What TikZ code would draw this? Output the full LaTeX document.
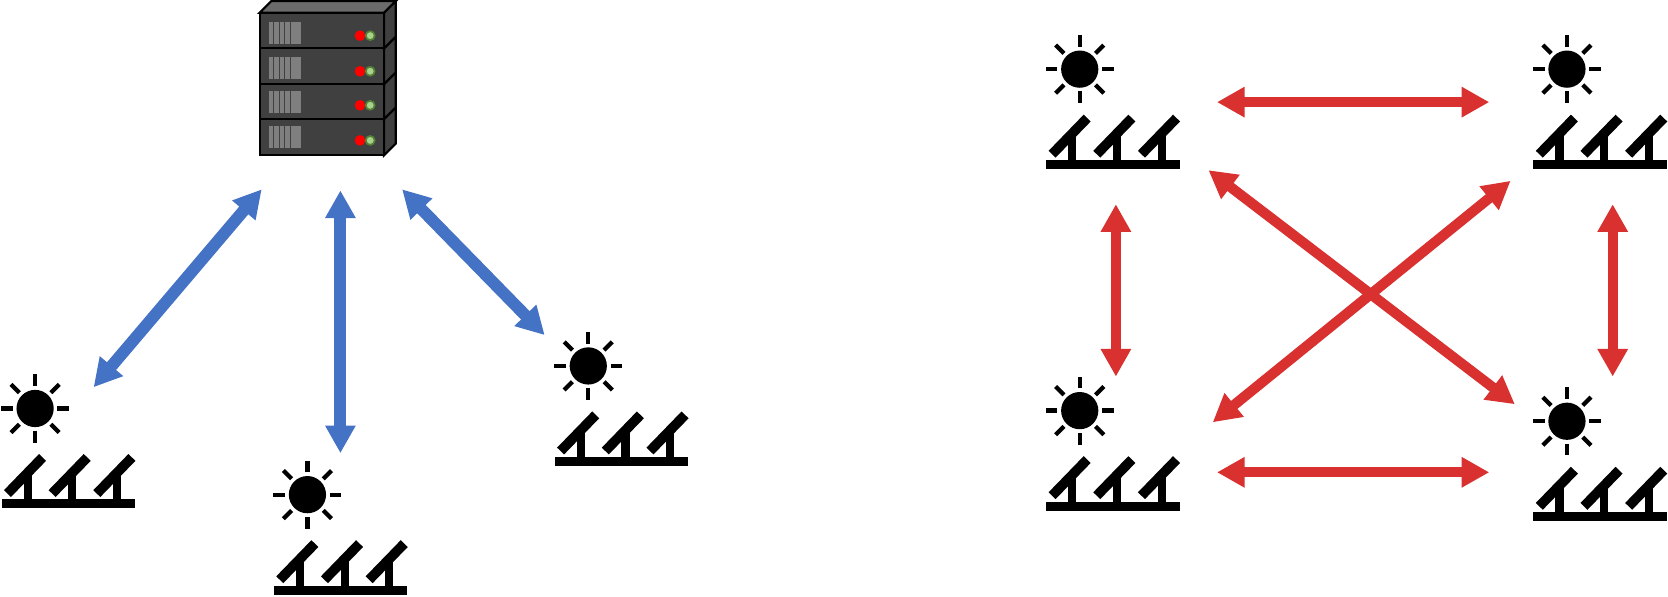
\documentclass[tikz,border=0pt]{standalone}
\usetikzlibrary{arrows.meta}
\definecolor{linkblue}{HTML}{4472C4}
\definecolor{linkred}{HTML}{D93030}
\definecolor{rackdark}{HTML}{404040}
\definecolor{racktop}{HTML}{6B6B6B}
\definecolor{vent}{HTML}{7F7F7F}
\definecolor{ledgreen}{HTML}{A9D18E}
\definecolor{ledring}{HTML}{548235}
\tikzset{
  x=0.5pt,y=-0.5pt,
  bluelink/.style={draw=linkblue,line width=5.6pt,{Triangle[length=13pt,width=13.5pt]}-{Triangle[length=13pt,width=13.5pt]},color=linkblue},
  redlink/.style={draw=linkred,line width=4.8pt,{Triangle[length=13pt,width=13.5pt]}-{Triangle[length=13pt,width=13.5pt]},color=linkred},
  rackface/.style={draw=black,line width=1pt,fill=rackdark},
  ray/.style={draw=black,line width=2pt},
  pv/.style={draw=black,line width=4.6pt},
  post/.style={draw=black,line width=3.8pt},
  redled/.style={circle,fill=red,inner sep=0pt,minimum size=5pt},
  greenled/.style={circle,fill=ledgreen,draw=ledring,line width=0.8pt,inner sep=0pt,minimum size=4.2pt}
}
\newcommand{\station}[3]{%
  \begin{scope}[shift={(#1,#2)}]
    \coordinate (#3) at (0,0);
    \fill[black] (0,0) circle[radius=17.5];
    \foreach \a in {0,45,...,315}{\draw[ray] (\a:21) -- (\a:32);}
    \foreach \d in {0,42,84}{
      \draw[post] (-7+\d,60) -- (-7+\d,88);
      \draw[pv] (-26+\d,80) -- (7+\d,46);
    }
    \fill[black] (-31.5,85.5) rectangle (94,94);
  \end{scope}}
\newcommand{\rackunit}[4]{%
  \fill[rackdark,draw=black,line width=1pt] (361,#1) -- (372,#1-11) -- (372,#2-11) -- (361,#2) -- cycle;
  \draw[rackface] (244,#1) rectangle (361,#2);
  \foreach \i in {0,1,2,3,4,5}{\fill[vent] (252.6+5.2*\i,#3) rectangle ++(4.4,21);}
  \node[redled] (r#1) at (338.4,#4) {};
  \node[greenled] (g#1) at (348,#4) {};
}
\begin{document}
\begin{tikzpicture}
\useasboundingbox (0,0) rectangle (1568,560.3);
\fill[racktop,draw=black,line width=1pt] (244,12) -- (255,1) -- (372,1) -- (361,12) -- cycle;
\rackunit{112}{146}{118.5}{132}
\rackunit{79}{112}{85.5}{99}
\rackunit{45.5}{79}{53.6}{67}
\rackunit{12}{45.5}{20.4}{33.5}
\station{33}{384}{sA}
\station{289}{465}{sB}
\station{553}{344}{sC}
\station{1015}{65}{sD}
\station{1473}{65}{sE}
\station{1015}{386}{sF}
\station{1473}{396}{sG}
\coordinate (b1a) at (246,178); \coordinate (b1b) at (88,364);
\coordinate (b2a) at (320,179); \coordinate (b2b) at (320,426);
\coordinate (b3a) at (378,178); \coordinate (b3b) at (512,315);
\coordinate (r1a) at (1144,96); \coordinate (r1b) at (1400,96);
\coordinate (r2a) at (1144,444); \coordinate (r2b) at (1400,444);
\coordinate (r3a) at (1049,192); \coordinate (r3b) at (1049,354);
\coordinate (r4a) at (1516,192); \coordinate (r4b) at (1516,354);
\coordinate (r5a) at (1136,160); \coordinate (r5b) at (1424,380);
\coordinate (r6a) at (1420,170); \coordinate (r6b) at (1140,397);
\draw[bluelink] (b1a) -- (b1b);
\draw[bluelink] (b2a) -- (b2b);
\draw[bluelink] (b3a) -- (b3b);
\draw[redlink] (r1a) -- (r1b);
\draw[redlink] (r2a) -- (r2b);
\draw[redlink] (r3a) -- (r3b);
\draw[redlink] (r4a) -- (r4b);
\draw[redlink] (r5a) -- (r5b);
\draw[redlink] (r6a) -- (r6b);
\end{tikzpicture}
\end{document}
